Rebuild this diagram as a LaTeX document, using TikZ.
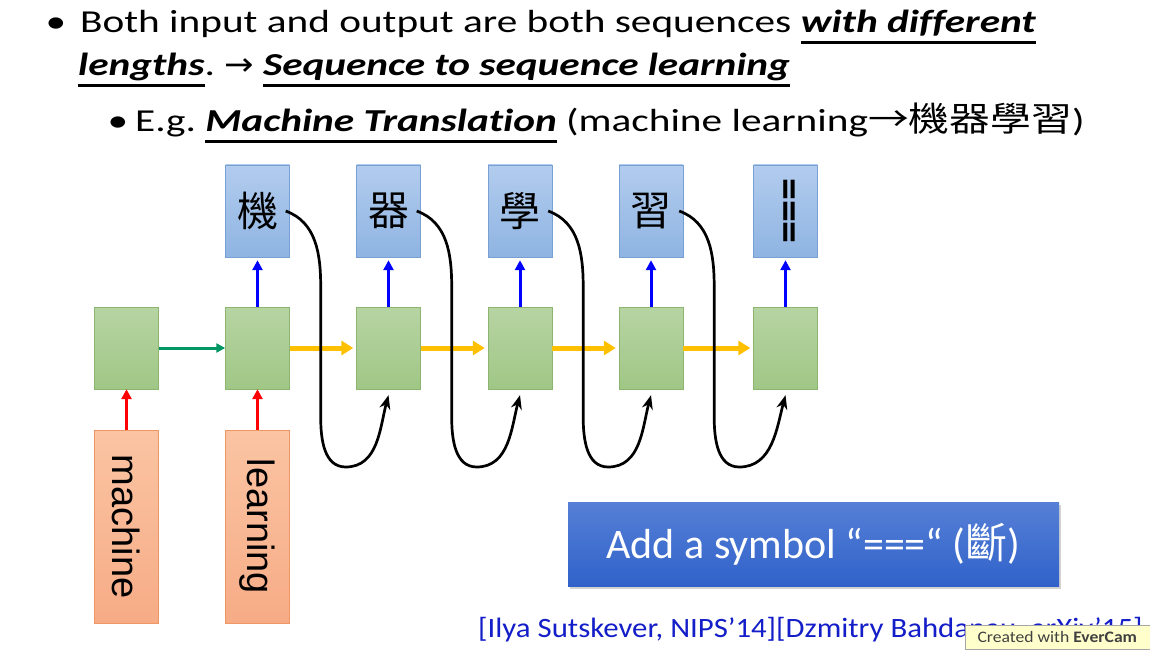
\documentclass[tikz,border=0pt]{standalone}
\usepackage{fontspec}
\setmainfont{Carlito}
\newfontfamily\slidefont{Carlito}[FakeStretch=1.29, Ligatures=NoCommon]
\newfontfamily\citefont{Carlito}[FakeStretch=1.1]
\newfontfamily\cjk{Noto Sans CJK TC}
\newfontfamily\cjkwide{Noto Sans CJK TC}[FakeStretch=1.2]
\newfontfamily\symfont{DejaVu Sans}[FakeStretch=1.1]
\newfontfamily\arialfont{Liberation Sans}
\usetikzlibrary{arrows.meta,shadows}
\frenchspacing

\definecolor{celltop}{RGB}{183,212,163}
\definecolor{cellbot}{RGB}{160,199,134}
\definecolor{cellline}{RGB}{140,182,112}
\definecolor{outtop}{RGB}{178,204,238}
\definecolor{outbot}{RGB}{143,180,226}
\definecolor{outline}{RGB}{120,160,212}
\definecolor{intop}{RGB}{251,196,163}
\definecolor{inbot}{RGB}{246,172,134}
\definecolor{inline}{RGB}{240,150,100}
\definecolor{hid}{RGB}{255,192,0}
\definecolor{firsthid}{RGB}{0,150,100}
\definecolor{btntop}{RGB}{86,128,214}
\definecolor{btnbot}{RGB}{48,98,202}
\definecolor{citeblue}{RGB}{20,30,200}
\definecolor{wmyellow}{RGB}{255,255,204}

\newcommand{\ulbox}[1]{\setbox0\hbox{#1}\rlap{\rule[-11pt]{\wd0}{2.5pt}}\box0\relax}
\newcommand{\bi}[1]{\ulbox{\bfseries\itshape #1}}

\tikzset{
  header/.style={anchor=base west, inner sep=0pt, font=\slidefont\fontsize{32}{32}\selectfont},
  cell/.style={draw=cellline, top color=celltop, bottom color=cellbot,
    minimum width=64pt, minimum height=82pt, inner sep=0pt},
  outbox/.style={draw=outline, top color=outtop, bottom color=outbot,
    minimum width=64pt, minimum height=92pt, inner sep=0pt, font=\cjk\fontsize{41}{41}\selectfont},
  inbox/.style={draw=inline, top color=intop, bottom color=inbot,
    minimum width=64pt, minimum height=193pt, inner sep=0pt, font=\arialfont\fontsize{38}{38}\selectfont},
  up/.style={-{Triangle[length=10pt,width=10pt]}, line width=3pt},
  hidden/.style={-{Triangle[length=12pt,width=14pt]}, line width=5pt, draw=hid, shorten >=3pt},
  loopback/.style={-{Stealth[length=14pt,width=11pt]}, line width=2.7pt},
  button/.style={top color=btntop, bottom color=btnbot, text=white,
    minimum width=491pt, minimum height=84pt, inner sep=0pt,
    drop shadow={shadow xshift=2pt, shadow yshift=-3pt, opacity=0.35},
    font=\fontsize{42}{42}\selectfont},
}

\begin{document}
\begin{tikzpicture}[x=1pt,y=1pt]
  \useasboundingbox (0,0) rectangle (1150,649);
  \fill[white] (0,0) rectangle (1150,649);

  % bullet text
  \node[header, anchor=base] (dot1) at (56,616) {\textbullet};
  \node[header] (line1) at (80,616) {Both input and output are both sequences \bi{with different}};
  \node[header] (line2) at (78,573) {\bi{lengths}. {\symfont →} \bi{Sequence to sequence learning}};
  \node[header, anchor=base] (dot2) at (118,517) {\textbullet};
  \node[header] (line3) at (135,517) {E.g. \bi{Machine Translation} (machine learning{\cjkwide\fontsize{34}{34}\selectfont →機器學習})};

  % encoder / decoder cells
  \foreach \i/\x in {1/126.5,2/257.5,3/388.5,4/520,5/651,6/785.5}
    \node[cell] (c\i) at (\x,301) {};

  % outputs
  \foreach \i/\t in {2/機,3/器,4/學,5/習}
    \node[outbox] (o\i) at (c\i |- 0,438) {\t};
  \node[outbox] (o6) at (c6 |- 0,438) {\rotatebox{-90}{\fontspec{Carlito}\bfseries\fontsize{44}{44}\selectfont ===}};

  % inputs
  \node[inbox] (in1) at (c1 |- 0,122.5) {\rotatebox{-90}{machine}};
  \node[inbox] (in2) at (c2 |- 0,122.5) {\rotatebox{-90}{learning}};

  \draw[up, red] (in1) -- (c1);
  \draw[up, red] (in2) -- (c2);
  \draw[-{Triangle[length=9pt,width=9pt]}, line width=3pt, firsthid] (c1) -- (c2);
  \foreach \i/\j in {2/3,3/4,4/5,5/6}{
    \draw[hidden] (c\i) -- (c\j);
    \draw[loopback] ([xshift=-4pt]o\i.east) to[out=-20,in=90] ++(35,-76) -- ++(0,-130)
      to[out=-90,in=180] ++(25,-50) to[out=0,in=-105] ([yshift=-6pt]c\j.south);
  }
  \foreach \i in {2,...,6}
    \draw[up, blue, shorten >=3pt] (c\i) -- (o\i);

  \node[button] (note) at (813.5,105) {Add a symbol “===“ ({\cjk 斷})};

  \node[anchor=base west, inner sep=0pt, text=citeblue, font=\citefont\fontsize{28}{28}\selectfont]
    (cite) at (478,12) {[Ilya Sutskever, NIPS’14][Dzmitry Bahdanau, arXiv’15]};
  \node[anchor=south east, draw=gray!70, fill=wmyellow, minimum width=185pt, minimum height=24pt,
    inner sep=0pt, text=black!75, font=\citefont\fontsize{16}{16}\selectfont]
    (mark) at (1150,0) {Created with \textbf{EverCam}};
\end{tikzpicture}
\end{document}
